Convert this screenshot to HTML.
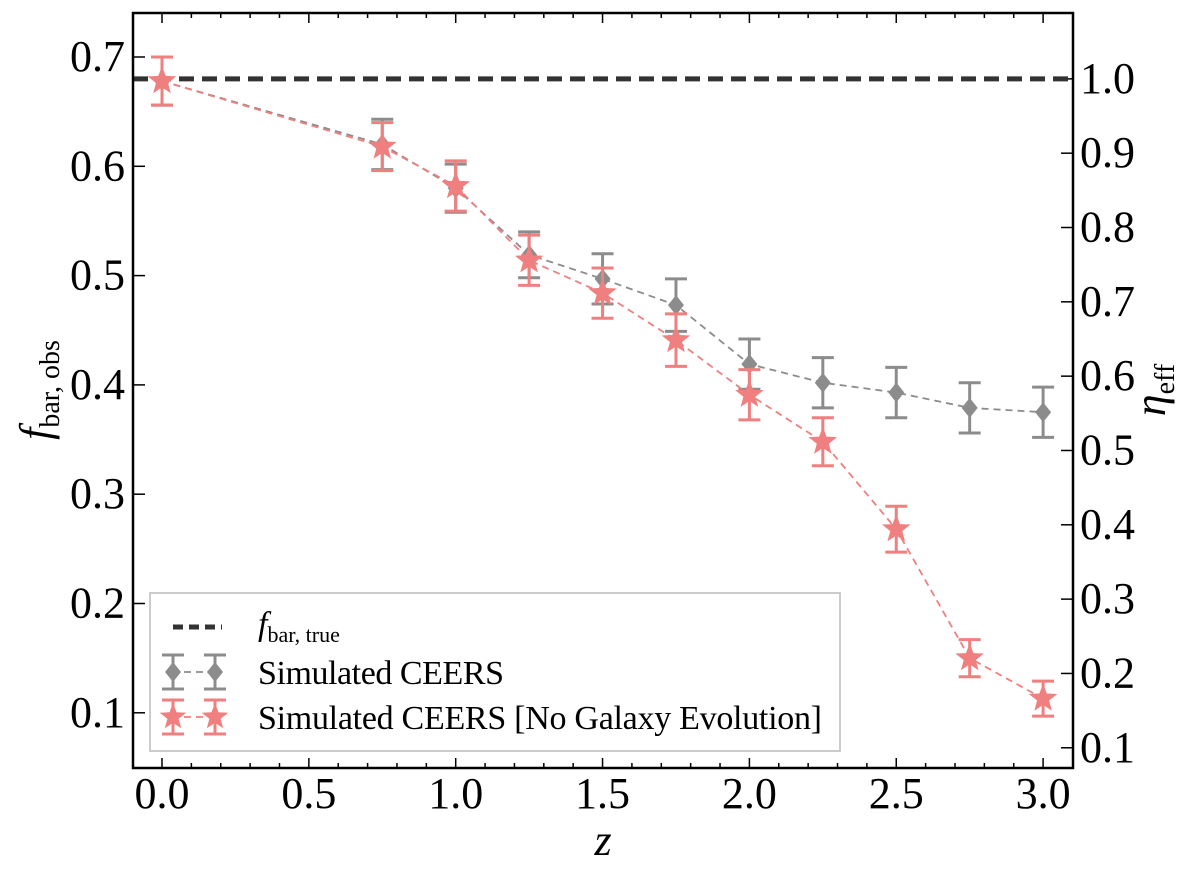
<!DOCTYPE html>
<html><head><meta charset="utf-8"><style>
body{margin:0;background:#fff;}
</style></head><body>
<svg id="chart" width="1200" height="869" viewBox="0 0 1200 869" font-family="'Liberation Serif', 'DejaVu Serif', serif" style="font-family:'Liberation Serif','DejaVu Serif',serif">
<g id="grid"></g>
<g id="marks"></g>
<rect x="133" y="13" width="940" height="755" fill="none" stroke="#000" stroke-width="2.5"/>
<text x="50" y="390" font-size="44" font-style="italic" transform="rotate(-90 50 390)" text-anchor="middle" style="font-family:'Liberation Serif',serif">f<tspan font-style="normal" font-size="28" dy="9">bar, obs</tspan></text>
<text x="1165" y="390" font-size="44" font-style="italic" transform="rotate(-90 1165 390)" text-anchor="middle" style="font-family:'Liberation Serif',serif">η<tspan font-style="normal" font-size="28" dy="9">eff</tspan></text>
<text x="603" y="855" font-size="44" font-style="italic" text-anchor="middle" style="font-family:'Liberation Serif',serif">z</text>
<g>
<rect x="150" y="593" width="690" height="158" fill="#fff" stroke="#ccc" stroke-width="2"/>
<line x1="173" y1="627" x2="222" y2="627" stroke="#333" stroke-width="5" stroke-dasharray="10,6"/>
<text x="258" y="635" font-size="34" style="font-family:'Liberation Serif',serif"><tspan font-style="italic">f</tspan><tspan font-size="22" dy="7">bar, true</tspan></text>
<g id="leg-grey"></g>
<text x="258" y="684" font-size="34" textLength="246" style="font-family:'Liberation Serif',serif">Simulated CEERS</text>
<g id="leg-red"></g>
<text x="258" y="729" font-size="34" textLength="564" style="font-family:'Liberation Serif',serif">Simulated CEERS [No Galaxy Evolution]</text>
</g>
</svg>
<script>
const zValues=[0,0.75,1.0,1.25,1.5,1.75,2.0,2.25,2.5,2.75,3.0];
const greyValues=[0.678,0.620,0.580,0.519,0.497,0.473,0.419,0.402,0.393,0.379,0.375];
const greyErr=[0.022,0.023,0.022,0.021,0.023,0.024,0.023,0.023,0.023,0.023,0.023];
const redValues=[0.678,0.618,0.582,0.514,0.484,0.441,0.391,0.348,0.268,0.150,0.113];
const redErr=[0.022,0.022,0.023,0.023,0.023,0.024,0.023,0.022,0.021,0.017,0.016];
const trueValue=0.68;
const xTicks=[0,0.5,1.0,1.5,2.0,2.5,3.0];
const xTickLabels=["0.0","0.5","1.0","1.5","2.0","2.5","3.0"];
const yTicks=[0.1,0.2,0.3,0.4,0.5,0.6,0.7];
const yTickLabels=["0.1","0.2","0.3","0.4","0.5","0.6","0.7"];
const rTicks=[0.1,0.2,0.3,0.4,0.5,0.6,0.7,0.8,0.9,1.0];
const rTickLabels=["0.1","0.2","0.3","0.4","0.5","0.6","0.7","0.8","0.9","1.0"];

const NS="http://www.w3.org/2000/svg";
const FONT="font-family:'Liberation Serif',serif";
const X=z=>162+z*293.7;
const Y=v=>57+(0.7-v)*1093;
const YR=e=>Y(e*trueValue);
const grid=document.getElementById('grid');
const marks=document.getElementById('marks');
function mk(tag,attrs,parent){const el=document.createElementNS(NS,tag);for(const k in attrs)el.setAttribute(k,attrs[k]);parent.appendChild(el);return el;}

for(let i=-1;i<=31;i++){const z=i/10;if(z<-0.09||z>3.09)continue;const major=i%5===0;const len=major?10:5;
 let t=mk('line',{x1:X(z),x2:X(z),y1:768,y2:768-len,stroke:'#000','stroke-width':1.5},grid);
 
 
 t=mk('line',{x1:X(z),x2:X(z),y1:13,y2:13+len,stroke:'#000','stroke-width':1.5},grid);
 
 }
xTicks.forEach((z,i)=>{const t=mk('text',{x:X(z),y:808,'font-size':44,'text-anchor':'middle',style:FONT},grid);t.textContent=xTickLabels[i];
 
 });
yTicks.forEach((v,i)=>{let l=mk('line',{x1:133,x2:145,y1:Y(v),y2:Y(v),stroke:'#000','stroke-width':1.5},grid);
 
 
 const t=mk('text',{x:125,y:Y(v)+14,'font-size':44,'text-anchor':'end',style:FONT},grid);t.textContent=yTickLabels[i];
 
 });
rTicks.forEach((v,i)=>{let l=mk('line',{x1:1061,x2:1073,y1:YR(v),y2:YR(v),stroke:'#000','stroke-width':1.5},grid);
 
 
 const t=mk('text',{x:1080,y:YR(v)+14,'font-size':44,style:FONT},grid);t.textContent=rTickLabels[i];
 
 });

let tl=mk('line',{x1:133,x2:1073,y1:Y(trueValue),y2:Y(trueValue),stroke:'#333','stroke-width':5,'stroke-dasharray':'15,8'},marks);



function star(cx,cy,r,color,parent){let p=[];for(let k=0;k<10;k++){const a=-Math.PI/2+k*Math.PI/5;const rr=k%2?r*0.42:r;p.push((cx+rr*Math.cos(a)).toFixed(1)+','+(cy+rr*Math.sin(a)).toFixed(1));}
 return mk('polygon',{points:p.join(' '),fill:color},parent);}
function diamond(cx,cy,r,color,parent){return mk('polygon',{points:`${cx},${cy-r} ${cx+r*0.8},${cy} ${cx},${cy+r} ${cx-r*0.8},${cy}`,fill:color},parent);}
function errbar(cx,y1,y2,color,parent){const g=mk('g',{stroke:color,'stroke-width':3},parent);
 mk('line',{x1:cx,x2:cx,y1:y1,y2:y2},g);mk('line',{x1:cx-11,x2:cx+11,y1:y1,y2:y1},g);mk('line',{x1:cx-11,x2:cx+11,y1:y2,y2:y2},g);return g;}

function series(vals,errs,color,kind,name){
 const d=vals.map((v,i)=>(i?'L':'M')+X(zValues[i])+','+Y(v)).join(' ');
 const p=mk('path',{d:d,fill:'none',stroke:color,'stroke-width':1.8,'stroke-dasharray':'7,5'},marks);
 
 
 vals.forEach((v,i)=>{const cx=X(zValues[i]);
  const e=errbar(cx,Y(v+errs[i]),Y(v-errs[i]),color,marks);
  
  
  const m=kind==='star'?star(cx,Y(v),15,color,marks):diamond(cx,Y(v),10,color,marks);
  
  });
}
series(greyValues,greyErr,'#8c8c8c','diamond','ceers');
series(redValues,redErr,'#f07f7f','star','noevo');

function legendRow(cy,color,kind,gid){const g=document.getElementById(gid);
 
 
 mk('line',{x1:184,x2:204,y1:cy,y2:cy,stroke:color,'stroke-width':1.8,'stroke-dasharray':'7,5'},g);
 [173,215].forEach(cx=>{errbar(cx,cy-17,cy+17,color,g);kind==='star'?star(cx,cy,14,color,g):diamond(cx,cy,10,color,g);});}
legendRow(672,'#8c8c8c','diamond','leg-grey');
legendRow(717,'#f07f7f','star','leg-red');
</script>
</body></html>
